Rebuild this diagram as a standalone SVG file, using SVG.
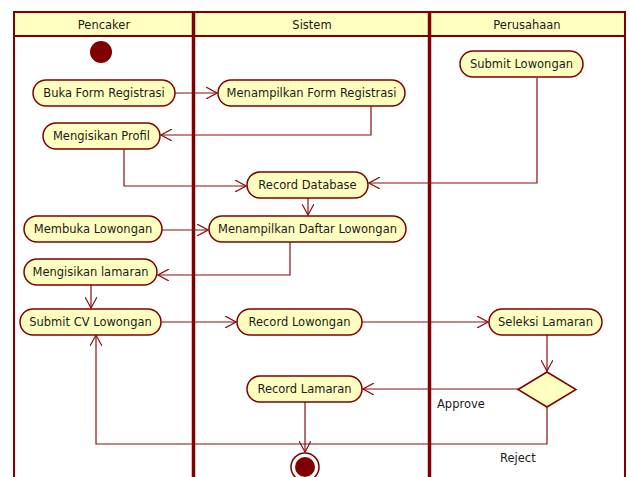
<svg xmlns="http://www.w3.org/2000/svg" width="630" height="477" viewBox="0 0 630 477">
<defs>
<style>
.lane{fill:none;stroke:#800000;stroke-width:2}
.div{stroke:#800000;stroke-width:3.5}
.hdr{fill:#FFFFC0;stroke:#800000;stroke-width:2}
.node rect{fill:#FFFFC0;stroke:#800000;stroke-width:1.5}
.t{font-family:"DejaVu Sans",sans-serif;font-size:11.5px;fill:#1a1a1a;text-anchor:middle;dominant-baseline:central}
.lbl{font-family:"DejaVu Sans",sans-serif;font-size:11.5px;fill:#1a1a1a}
.c{fill:none;stroke:#8a1010;stroke-width:1.2;marker-end:url(#arr)}
</style>
<marker id="arr" viewBox="0 0 12 12" refX="11" refY="6" markerWidth="12" markerHeight="12" markerUnits="userSpaceOnUse" orient="auto">
<path d="M0,0 L11,6 L0,12" fill="none" stroke="#8a1010" stroke-width="1.2"/>
</marker>
</defs>
<rect width="630" height="477" fill="#fff"/>
<g id="lanes">
<rect class="hdr" x="14" y="12" width="611" height="24"/>
<line class="lane" x1="14" y1="12" x2="14" y2="477"/>
<line class="lane" x1="625" y1="12" x2="625" y2="477"/>
<line class="div" x1="193.5" y1="12" x2="193.5" y2="477"/>
<line class="div" x1="429.5" y1="12" x2="429.5" y2="477"/>
<text class="t" x="104" y="25">Pencaker</text>
<text class="t" x="312" y="25">Sistem</text>
<text class="t" x="527" y="25">Perusahaan</text>
</g>
<g id="connectors">
<path class="c" d="M175,93 H217"/>
<path class="c" d="M371,106 V135 H161"/>
<path class="c" d="M124,149 V186 H246"/>
<path class="c" d="M537,78 V183 H369"/>
<path class="c" d="M308,198 V215"/>
<path class="c" d="M162,230 H208"/>
<path class="c" d="M290,242 V275 H158"/>
<path class="c" d="M91,285 V308"/>
<path class="c" d="M161,322 H236"/>
<path class="c" d="M362,322 H488"/>
<path class="c" d="M547,334 V371"/>
<path class="c" d="M518,389 H363"/>
<path class="c" d="M547,407 V444 H96 V335"/>
<path class="c" d="M305,402 V452"/>
<text class="lbl" x="437" y="408">Approve</text>
<text class="lbl" x="500" y="462">Reject</text>
</g>
<g id="start"><circle cx="101" cy="52" r="11" fill="#800000"/></g>
<g id="n1" class="node"><rect x="33" y="80" width="142" height="26" rx="13"/><text class="t" x="104" y="93">Buka Form Registrasi</text></g>
<g id="n2" class="node"><rect x="218" y="80" width="187" height="26" rx="13"/><text class="t" x="311.5" y="93">Menampilkan Form Registrasi</text></g>
<g id="n3" class="node"><rect x="460" y="51" width="123" height="26" rx="13"/><text class="t" x="521.5" y="64">Submit Lowongan</text></g>
<g id="n4" class="node"><rect x="43" y="123" width="117" height="26" rx="13"/><text class="t" x="101.5" y="136">Mengisikan Profil</text></g>
<g id="n5" class="node"><rect x="247" y="172" width="121" height="26" rx="13"/><text class="t" x="307.5" y="185">Record Database</text></g>
<g id="n6" class="node"><rect x="24" y="216" width="138" height="26" rx="13"/><text class="t" x="93" y="229">Membuka Lowongan</text></g>
<g id="n7" class="node"><rect x="209" y="216" width="197" height="26" rx="13"/><text class="t" x="307.5" y="229">Menampilkan Daftar Lowongan</text></g>
<g id="n8" class="node"><rect x="24" y="259" width="133" height="26" rx="13"/><text class="t" x="90.5" y="272">Mengisikan lamaran</text></g>
<g id="n9" class="node"><rect x="20" y="309" width="141" height="26" rx="13"/><text class="t" x="90.5" y="322">Submit CV Lowongan</text></g>
<g id="n10" class="node"><rect x="237" y="309" width="125" height="26" rx="13"/><text class="t" x="299.5" y="322">Record Lowongan</text></g>
<g id="n11" class="node"><rect x="489" y="309" width="113" height="26" rx="13"/><text class="t" x="545.5" y="322">Seleksi Lamaran</text></g>
<g id="n12" class="node"><rect x="247" y="376" width="115" height="26" rx="13"/><text class="t" x="304.5" y="389">Record Lamaran</text></g>
<g id="decision"><polygon points="518,389.5 547,372 576,389.5 547,407" fill="#FFFFC0" stroke="#800000" stroke-width="1.5"/></g>
<g id="end"><circle cx="305" cy="467" r="14" fill="#fff" stroke="#800000" stroke-width="1.5"/><circle cx="305" cy="467" r="10" fill="#800000"/></g>
</svg>
